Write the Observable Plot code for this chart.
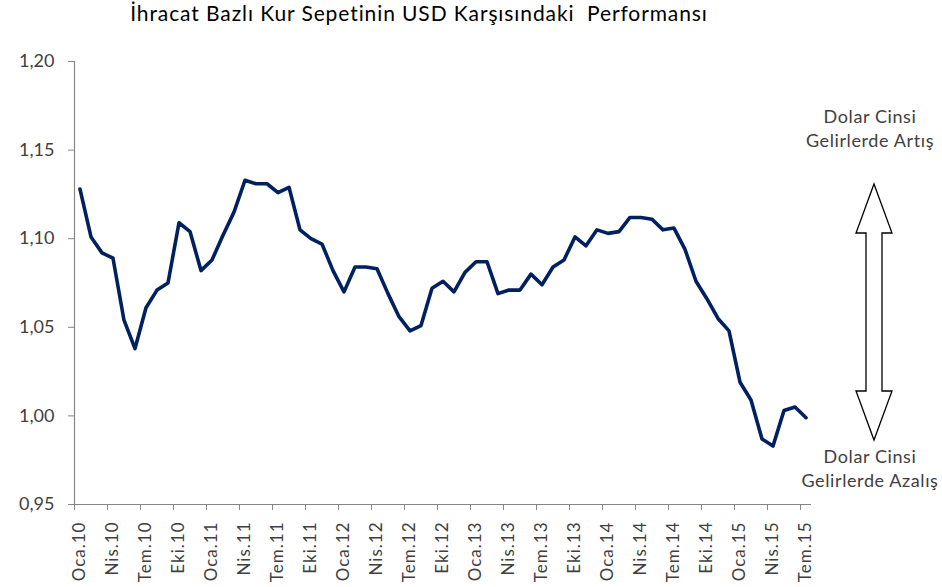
<!DOCTYPE html>
<html>
<head>
<meta charset="utf-8">
<script src="https://cdn.jsdelivr.net/npm/d3@7"></script>
<script src="https://cdn.jsdelivr.net/npm/@observablehq/plot@0.6"></script>
<style>
  html, body { margin: 0; padding: 0; background: #ffffff; }
  #chart { width: 942px; height: 587px; }
</style>
</head>
<body>
<div id="chart"></div>
<script>
// ---- Data ----
const monthNames = ["Oca", "Şub", "Mar", "Nis", "May", "Haz", "Tem", "Ağu", "Eyl", "Eki", "Kas", "Ara"];
const yearLabels = ["10", "11", "12", "13", "14", "15"];
// Monthly index, Oca.10 .. Tem.15
const values = [
  1.128, 1.101, 1.092, 1.089, 1.054, 1.038, 1.061, 1.071, 1.075, 1.109, 1.104, 1.082,
  1.088, 1.102, 1.115, 1.133, 1.131, 1.131, 1.126, 1.129, 1.105, 1.100, 1.097, 1.082,
  1.070, 1.084, 1.084, 1.083, 1.069, 1.056, 1.048, 1.051, 1.072, 1.076, 1.070, 1.081,
  1.087, 1.087, 1.069, 1.071, 1.071, 1.080, 1.074, 1.084, 1.088, 1.101, 1.096, 1.105,
  1.103, 1.104, 1.112, 1.112, 1.111, 1.105, 1.106, 1.094, 1.076, 1.066, 1.055, 1.048,
  1.019, 1.009, 0.987, 0.983, 1.003, 1.005, 0.999
];
const yTicks = [0.95, 1.00, 1.05, 1.10, 1.15, 1.20];
const labelEvery = 3;

const title = "İhracat Bazlı Kur Sepetinin USD Karşısındaki  Performansı";
const upperNote = ["Dolar Cinsi", "Gelirlerde Artış"];
const lowerNote = ["Dolar Cinsi", "Gelirlerde Azalış"];

// ---- Derived table ----
const labels = values.map((_, i) => monthNames[i % 12] + "." + yearLabels[Math.floor(i / 12)]);
const data = values.map((v, i) => ({i, v, label: labels[i]}));
const labelIdx = data.filter(d => d.i % labelEvery === 0).map(d => d.i);
const boundaries = labelIdx.map(i => i - 0.5);

const axisGray = "#868686";
const textColor = "#404040";
const fontFamily = "Lato, 'Open Sans', sans-serif";

const chart = Plot.plot({
  width: 942,
  height: 587,
  marginTop: 61,
  marginBottom: 83,
  marginLeft: 74,
  marginRight: 131,
  style: {fontFamily, background: "#ffffff", color: textColor},
  x: {domain: [-0.5, values.length - 0.5], axis: null},
  y: {domain: [0.95, 1.20], axis: null},
  marks: [
    Plot.axisY({
      ticks: yTicks,
      tickFormat: d => d.toFixed(2).replace(".", ","),
      tickSize: 6,
      tickPadding: 14,
      fontSize: 18,
      label: null,
      stroke: axisGray,
      fill: textColor
    }),
    Plot.axisX({
      ticks: boundaries,
      tickFormat: () => "",
      tickSize: 6,
      label: null,
      stroke: axisGray
    }),
    Plot.axisX({
      ticks: labelIdx,
      tickFormat: i => labels[i],
      tickSize: 0,
      tickPadding: 17,
      tickRotate: -90,
      fontSize: 17,
      label: null,
      fill: textColor
    }),
    Plot.ruleX([-0.5], {stroke: axisGray, strokeWidth: 1.2}),
    Plot.ruleY([0.95], {stroke: axisGray, strokeWidth: 1.2}),
    Plot.line(data, {
      x: "i",
      y: "v",
      stroke: "#002060",
      strokeWidth: 3.6,
      strokeLinejoin: "round",
      strokeLinecap: "round"
    })
  ]
});

document.getElementById("chart").appendChild(chart);

// letter spacing for the rotated month labels (Excel-like wide rendering)
d3.select(chart).selectAll("g[aria-label='x-axis tick label'] text").attr("letter-spacing", 1);

// ---- Annotations (title, notes, double arrow) ----
const svg = d3.select(chart);
svg.append("text")
  .attr("x", 419).attr("y", 21)
  .attr("text-anchor", "middle")
  .attr("font-size", 21)
  .attr("letter-spacing", 0.9)
  .attr("fill", "#000000")
  .style("white-space", "pre")
  .attr("xml:space", "preserve")
  .text(title);

const noteX = 870;
const notes = svg.append("g")
  .attr("font-size", 18)
  .attr("letter-spacing", 0.6)
  .attr("fill", textColor)
  .attr("text-anchor", "middle");
upperNote.forEach((t, k) => notes.append("text").attr("x", noteX).attr("y", 123 + k * 24).text(t));
lowerNote.forEach((t, k) => notes.append("text").attr("x", noteX).attr("y", 463 + k * 24).text(t));

const arrowX = 874, arrowTop = 184, arrowBottom = 440, headH = 49, headW = 18, shaftW = 8;
const arrowPts = [
  [arrowX, arrowTop], [arrowX + headW, arrowTop + headH], [arrowX + shaftW, arrowTop + headH],
  [arrowX + shaftW, arrowBottom - headH], [arrowX + headW, arrowBottom - headH], [arrowX, arrowBottom],
  [arrowX - headW, arrowBottom - headH], [arrowX - shaftW, arrowBottom - headH],
  [arrowX - shaftW, arrowTop + headH], [arrowX - headW, arrowTop + headH]
];
svg.append("path")
  .attr("d", "M" + arrowPts.map(p => p.join(",")).join("L") + "Z")
  .attr("fill", "#ffffff")
  .attr("stroke", "#000000")
  .attr("stroke-width", 1.3)
  .attr("stroke-linejoin", "miter");
</script>
</body>
</html>
